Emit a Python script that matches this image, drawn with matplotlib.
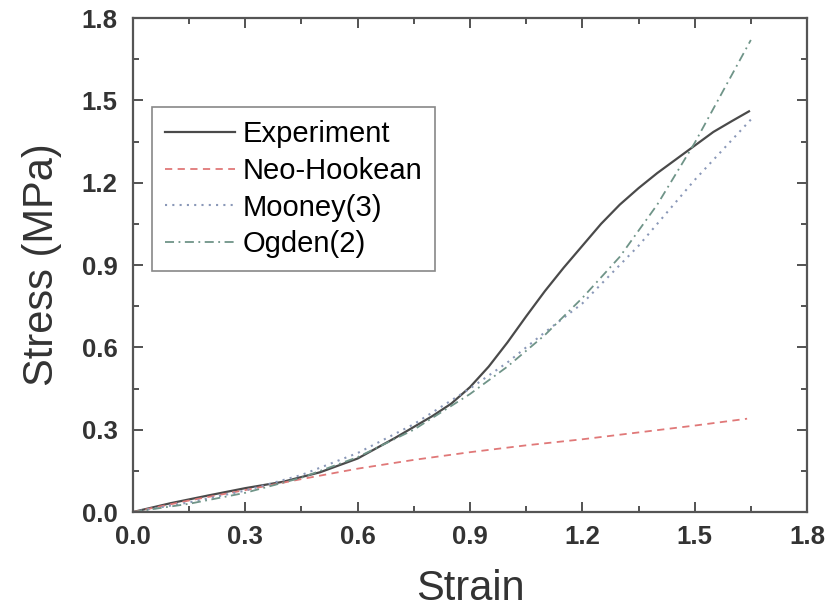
import matplotlib
matplotlib.use("Agg")
import matplotlib.pyplot as plt
from matplotlib.ticker import MultipleLocator

plt.rcParams['font.family'] = ['Liberation Sans', 'DejaVu Sans']

# experimental uniaxial curve
strain_exp = [0, 0.1, 0.2, 0.3, 0.4, 0.5, 0.6, 0.7, 0.8, 0.85, 0.9, 0.95, 1.0, 1.05,
              1.1, 1.15, 1.2, 1.25, 1.3, 1.35, 1.4, 1.45, 1.5, 1.55, 1.6, 1.645]
stress_exp = [0, 0.032, 0.06, 0.087, 0.11, 0.145, 0.195, 0.27, 0.35, 0.395, 0.455, 0.53, 0.618, 0.713,
              0.805, 0.89, 0.97, 1.05, 1.12, 1.18, 1.235, 1.285, 1.335, 1.385, 1.425, 1.46]

# fitted hyperelastic models
strain_neo = [0, 0.15, 0.3, 0.45, 0.6, 0.75, 0.9, 1.05, 1.2, 1.35, 1.5, 1.64]
stress_neo = [0, 0.042, 0.08, 0.12, 0.158, 0.19, 0.218, 0.243, 0.265, 0.29, 0.315, 0.34]

strain_mooney = [0, 0.15, 0.3, 0.45, 0.6, 0.75, 0.9, 1.0, 1.1, 1.2, 1.35, 1.5, 1.65]
stress_mooney = [0, 0.035, 0.078, 0.135, 0.215, 0.32, 0.45, 0.545, 0.655, 0.76, 0.97, 1.21, 1.43]

strain_ogden = [0, 0.15, 0.3, 0.45, 0.6, 0.75, 0.9, 1.0, 1.1, 1.2, 1.3, 1.4, 1.5, 1.65]
stress_ogden = [0, 0.03, 0.07, 0.125, 0.2, 0.3, 0.43, 0.53, 0.645, 0.78, 0.93, 1.12, 1.345, 1.72]

labels = ['Experiment', 'Neo-Hookean', 'Mooney(3)', 'Ogden(2)']

fig = plt.figure(figsize=(8.29, 6.11), dpi=100)
ax = fig.add_axes([0.1604, 0.162, 0.8131, 0.8085])

ax.plot(strain_exp, stress_exp, color='#4a4a4a', lw=1.6, label=labels[0])
ax.plot(strain_neo, stress_neo, color='#e07878', lw=1.3, linestyle=(0, (4, 3)), label=labels[1])
ax.plot(strain_mooney, stress_mooney, color='#8a98b8', lw=1.5, linestyle=(0, (1, 2.5)), label=labels[2])
ax.plot(strain_ogden, stress_ogden, color='#6f9488', lw=1.3, linestyle=(0, (5, 2.5, 1, 2.5)), label=labels[3])

ax.set_xlim(0, 1.8)
ax.set_ylim(0, 1.8)
ax.xaxis.set_major_locator(MultipleLocator(0.3))
ax.yaxis.set_major_locator(MultipleLocator(0.3))
ax.xaxis.set_minor_locator(MultipleLocator(0.15))
ax.yaxis.set_minor_locator(MultipleLocator(0.15))
ax.xaxis.set_major_formatter(plt.FormatStrFormatter('%.1f'))
ax.yaxis.set_major_formatter(plt.FormatStrFormatter('%.1f'))

ax.tick_params(which='both', direction='in', top=True, right=True, color='#444444', width=1.3)
ax.tick_params(which='major', length=7, labelsize=18.5)
ax.tick_params(axis='x', which='major', pad=9)
ax.tick_params(axis='y', which='major', pad=11)
ax.tick_params(which='minor', length=4)
for lab in ax.get_xticklabels() + ax.get_yticklabels():
    lab.set_fontweight('bold')
    lab.set_color('#333333')
for sp in ax.spines.values():
    sp.set_linewidth(1.6)
    sp.set_color('#555555')

ax.set_xlabel('Strain', fontsize=30, color='#333333', labelpad=15)
ax.set_ylabel('Stress (MPa)', fontsize=30, color='#333333', labelpad=14)

leg = ax.legend(loc='upper left', bbox_to_anchor=(0.028, 0.82), borderaxespad=0, fontsize=21,
                handlelength=2.4, labelspacing=0.3, borderpad=0.45, handletextpad=0.25,
                fancybox=False, framealpha=1)
leg.get_frame().set_edgecolor('#888888')
leg.get_frame().set_linewidth(1.2)

fig.savefig('out.png', dpi=100)
